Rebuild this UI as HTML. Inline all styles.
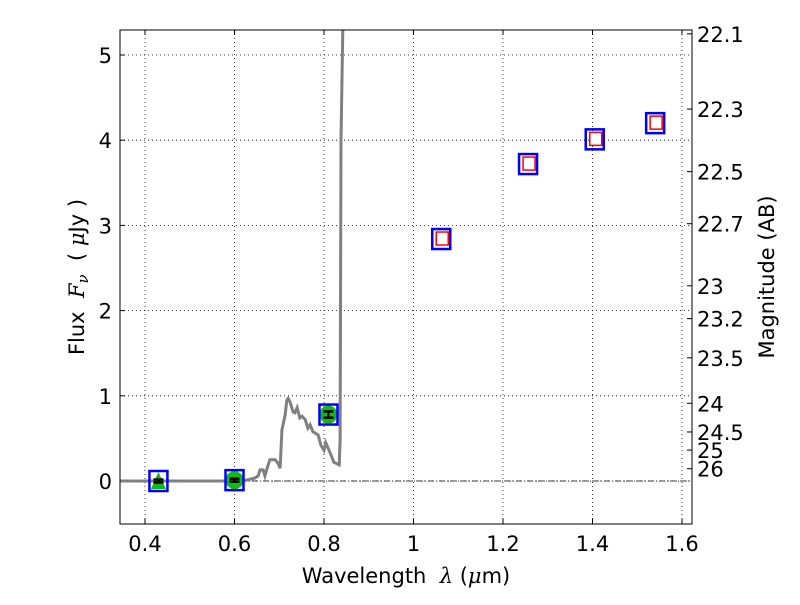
<!DOCTYPE html>
<html><head><meta charset="utf-8"><style>
body{margin:0;background:#fff}
svg text{font-family:"DejaVu Sans","Liberation Sans",sans-serif;fill:#000;white-space:pre}
</style></head><body>
<svg id="chart" width="800" height="600" xmlns="http://www.w3.org/2000/svg"></svg>
<script>
const specX=[0.344,0.619,0.646,0.653,0.657,0.664,0.668,0.673,0.679,0.691,0.697,0.702,0.706,0.713,0.717,0.720,0.724,0.731,0.735,0.740,0.746,0.751,0.758,0.764,0.769,0.775,0.787,0.793,0.800,0.804,0.813,0.822,0.834,0.836,0.838,0.842,0.845];
const specY=[0,0,0.035,0.06,0.13,0.13,0.06,0.15,0.25,0.25,0.21,0.15,0.6,0.77,0.95,0.97,0.93,0.81,0.80,0.86,0.74,0.76,0.72,0.62,0.66,0.58,0.54,0.42,0.36,0.45,0.34,0.22,0.19,0.48,4.0,5.3,5.6];
const obsX=[0.43,0.6,0.81,1.062,1.256,1.405,1.54];
const obsY=[0.0,0.01,0.78,2.84,3.72,4.01,4.2];
const obsErr=[0.02,0.02,0.04,0,0,0,0];
const modelX=[1.062,1.256,1.405,1.54];
const modelY=[2.84,3.72,4.01,4.2];
const xTicks=[0.4,0.6,0.8,1.0,1.2,1.4,1.6];
const xTickLabels=["0.4","0.6","0.8","1","1.2","1.4","1.6"];
const yTicks=[0,1,2,3,4,5];
const magTicks=[22.1,22.3,22.5,22.7,23,23.2,23.5,24,24.5,25,26];

const L=120,R=692,T=30,B=524;
const X=v=>145+(v-0.4)*447.5;
const Y=v=>481-v*85.2;
const NS="http://www.w3.org/2000/svg";
const svg=document.getElementById('chart');
function mk(tag,a,parent){const e=document.createElementNS(NS,tag);for(const k in a)e.setAttribute(k,a[k]);(parent||svg).appendChild(e);return e;}

const clip=mk('clipPath',{id:'pc'});mk('rect',{x:L,y:T,width:R-L,height:B-T},clip);
xTicks.forEach((t,i)=>{
 const g=mk('line',{x1:X(t),x2:X(t),y1:T,y2:B,stroke:'#000','stroke-dasharray':'1,3','stroke-width':0.8});
 
 mk('line',{x1:X(t),x2:X(t),y1:B,y2:B-5,stroke:'#000'});mk('line',{x1:X(t),x2:X(t),y1:T,y2:T+5,stroke:'#000'});
 const tx=mk('text',{x:X(t),y:B+27,'text-anchor':'middle','font-size':21});tx.textContent=xTickLabels[i];
 
});
yTicks.forEach(t=>{
 const g=mk('line',{x1:L,x2:R,y1:Y(t),y2:Y(t),stroke:'#000','stroke-dasharray':'1,3','stroke-width':0.8});
 
 mk('line',{x1:L,x2:L+5,y1:Y(t),y2:Y(t),stroke:'#000'});
 const tx=mk('text',{x:L-8,y:Y(t)+8,'text-anchor':'end','font-size':21});tx.textContent=t;
 
});
magTicks.forEach(m=>{
 const f=Math.pow(10,(23.9-m)/2.5);const y=Y(f);
 mk('line',{x1:R,x2:R-5,y1:y,y2:y,stroke:'#000'});
 const tx=mk('text',{x:R+5,y:y+8,'font-size':21});tx.textContent=m;
 
});
const zl=mk('line',{x1:L,x2:R,y1:Y(0),y2:Y(0),stroke:'#000','stroke-dasharray':'6,2,1,2','stroke-width':0.8});

const sp=mk('polyline',{points:specX.map((x,i)=>X(x)+','+Y(specY[i])).join(' '),fill:'none',stroke:'#808080','stroke-width':3,'clip-path':'url(#pc)'});

modelX.forEach((x,i)=>{
 const r=mk('rect',{x:X(x)-5,y:Y(modelY[i])-7,width:12,height:13,fill:'#fff',stroke:'#f00','stroke-width':1.5});
 
});
obsX.forEach((x,i)=>{
 const cx=X(x),cy=Y(obsY[i]);
 if(i<3){
  if(i===0){const p=mk('polygon',{points:`${cx},${cy-9} ${cx-7.5},${cy+8} ${cx+7.5},${cy+8}`,fill:'#1b1'});}
  else{const c=mk('circle',{cx:cx,cy:cy,r:9,fill:'#1b1'});}
  const e=obsErr[i]*85.2;
  mk('line',{x1:cx,x2:cx,y1:cy-e,y2:cy+e,stroke:'#000','stroke-width':2});
  mk('rect',{x:cx-5,y:cy-e-1,width:10,height:2*e+2<4?4:2.5,fill:'#000'});
  if(2*e+2>=4)mk('rect',{x:cx-5,y:cy+e-1.5,width:10,height:2.5,fill:'#000'});
 }
 const b=mk('rect',{x:cx-9,y:cy-10,width:18,height:20,fill:'none',stroke:'#00f','stroke-width':2.5});
 
});
const fr=mk('rect',{x:L,y:T,width:R-L,height:B-T,fill:'none',stroke:'#000','stroke-width':1});

let t=mk('text',{x:406,y:583,'text-anchor':'middle','font-size':21});t.innerHTML='Wavelength  <tspan font-style="italic" font-family="DejaVu Serif">λ</tspan> (<tspan font-style="italic" font-family="DejaVu Serif">μ</tspan>m)';

t=mk('text',{x:0,y:0,'text-anchor':'middle','font-size':21,transform:'translate(84,277) rotate(-90)'});t.innerHTML='Flux  <tspan font-style="italic" font-family="DejaVu Serif">F<tspan font-size="15" dy="4">ν</tspan></tspan><tspan dy="-4">  ( </tspan><tspan font-style="italic" font-family="DejaVu Serif">μ</tspan>Jy )';

t=mk('text',{x:0,y:0,'text-anchor':'middle','font-size':21,transform:'translate(774,277) rotate(-90)'});t.textContent='Magnitude (AB)';

</script>
</body></html>
